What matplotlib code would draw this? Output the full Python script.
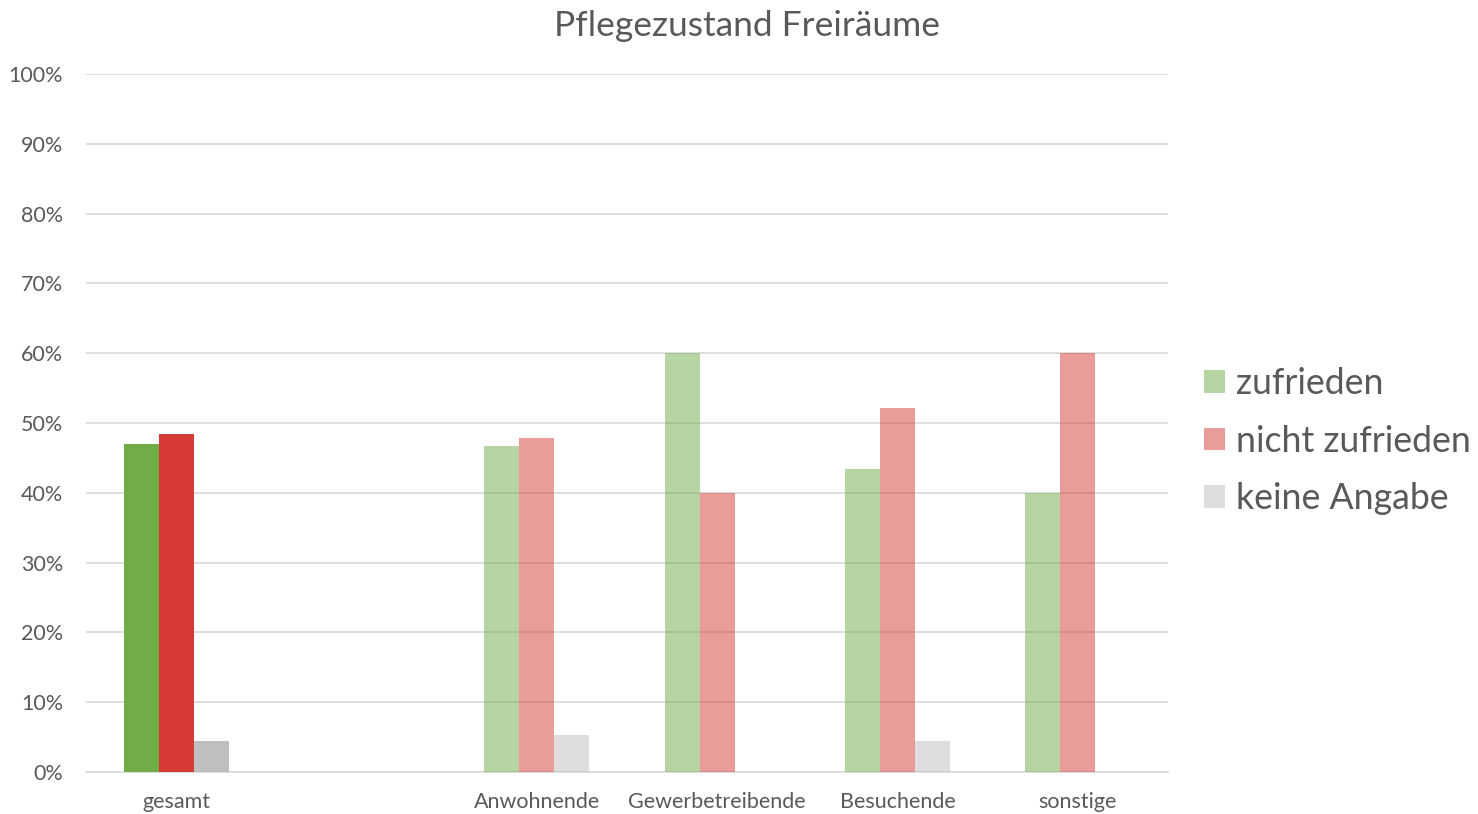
import numpy as np
import matplotlib
matplotlib.use("Agg")
import matplotlib.pyplot as plt
from matplotlib.patches import Patch

plt.rcParams['font.family'] = ['Lato', 'DejaVu Sans']

categories = ["gesamt", "", "Anwohnende", "Gewerbetreibende", "Besuchende", "sonstige"]
zufrieden = [47.0, np.nan, 46.7, 60.0, 43.4, 40.0]
nicht_zufrieden = [48.4, np.nan, 47.8, 40.0, 52.1, 60.0]
keine_angabe = [4.4, np.nan, 5.3, 0.0, 4.4, 0.0]
series_names = ["zufrieden", "nicht zufrieden", "keine Angabe"]
yticks = list(range(0, 101, 10))

green, red, gray = "#70AD47", "#D63A36", "#BFBFBF"
txt = "#595959"

fig = plt.figure(figsize=(14.78, 8.14), dpi=100)
ax = fig.add_axes([86/1478, 42/814, (1168-86)/1478, (772-74)/814])

x = np.arange(len(categories))
w = 0.194
series = [zufrieden, nicht_zufrieden, keine_angabe]
colors = [green, red, gray]
for k, (vals, c) in enumerate(zip(series, colors)):
    for i, v in enumerate(vals):
        if np.isnan(v):
            continue
        alpha = 1.0 if i == 0 else 0.5
        ax.bar(x[i] + (k - 1) * w, v, width=w, color=c, alpha=alpha, zorder=3, linewidth=0)

ax.set_xlim(-0.5, len(categories) - 0.5)
ax.set_ylim(0, 100)
ax.set_yticks(yticks)
ax.set_yticklabels([f"{t}%" for t in yticks], fontsize=15.5, color=txt)
ax.set_xticks(x)
ax.set_xticklabels(categories, fontsize=15.5, color=txt)
ax.tick_params(length=0, axis='y', pad=16.5)
ax.tick_params(length=0, axis='x', pad=14.5)
ax.grid(axis='y', color="#D9D9D9", linewidth=1.2, zorder=0)
for s in ['top', 'right', 'left']:
    ax.spines[s].set_visible(False)
ax.spines['bottom'].set_color("#D9D9D9")
ax.spines['bottom'].set_linewidth(1.2)

fig.text(747/1478, 1 - 26/814, "Pflegezustand Freiräume", ha='center', va='center',
         fontsize=25.5, color=txt)

handles = [Patch(facecolor=c, alpha=0.5, linewidth=0) for c in colors]
leg = fig.legend(handles, series_names, loc='center left', bbox_to_anchor=(1204/1478, 1 - 441/814),
                 frameon=False, fontsize=25.7, labelcolor=txt, handlelength=0.6, handleheight=0.6,
                 handletextpad=0.3, labelspacing=0.68, borderpad=0, borderaxespad=0)

fig.savefig("out.png", dpi=100)
